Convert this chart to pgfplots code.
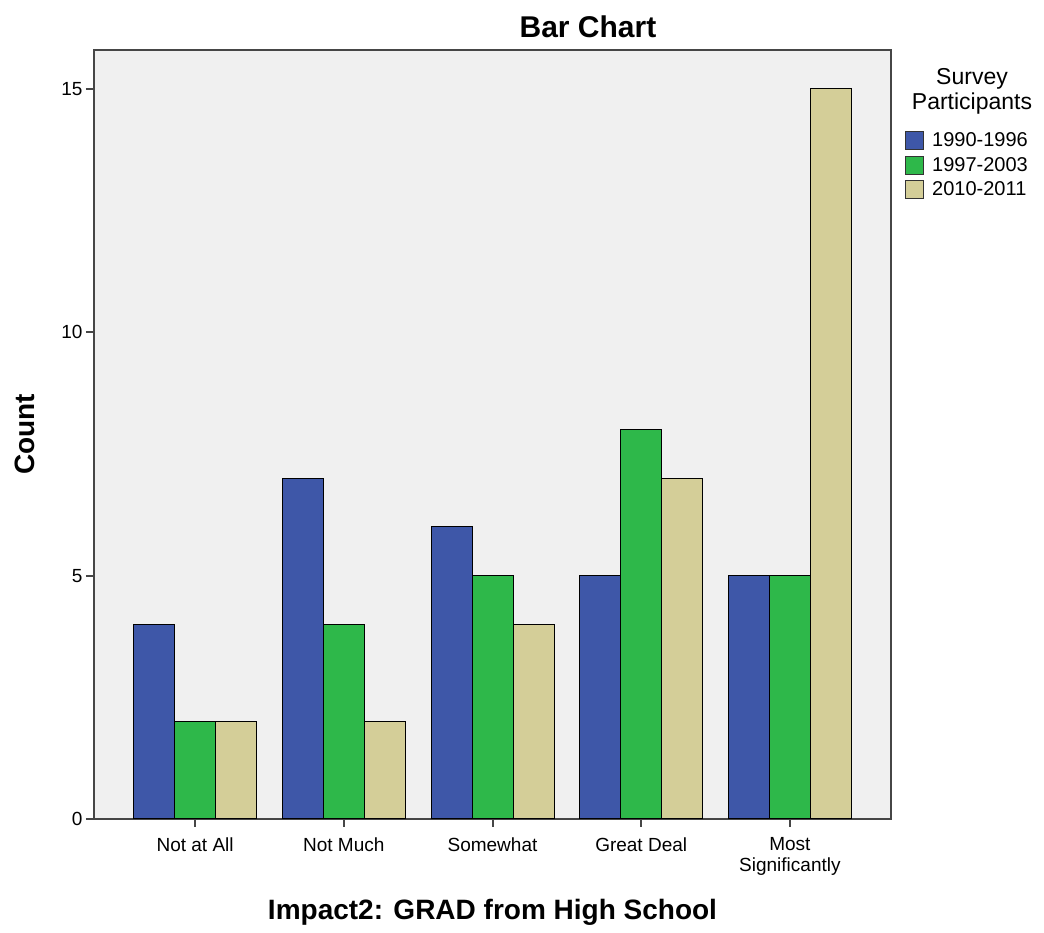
\documentclass[border=0pt]{standalone}
\usepackage{fontspec}
\setmainfont{Liberation Sans}
\usepackage{pgfplots}
\pgfplotsset{compat=1.18}
\definecolor{cblue}{RGB}{62,87,168}
\definecolor{cgreen}{RGB}{46,184,74}
\definecolor{ctan}{RGB}{212,206,152}
\definecolor{bggray}{RGB}{240,240,240}
\definecolor{axgray}{RGB}{70,70,70}
\begin{document}
\begin{tikzpicture}[x=1pt,y=1pt]
\useasboundingbox (-94,-114) rectangle (950,819);
\begin{axis}[
  at={(0,0)}, anchor=south west,
  width=797pt, height=769pt, scale only axis,
  xmin=-0.68, xmax=4.68, ymin=0, ymax=15.8,
  axis background/.style={fill=bggray},
  axis line style={draw=axgray, line width=1.5pt},
  ybar=0pt, bar width=41pt,
  xtick={0,1,2,3,4},
  xticklabels={Not at All, Not Much, Somewhat, Great Deal, {Most\\Significantly}},
  xticklabel style={align=center, font=\fontsize{19}{21}\selectfont, yshift=-7pt},
  yticklabel style={font=\fontsize{19}{21}\selectfont},
  /pgf/number format/assume math mode=true,
  ytick={0,5,10,15},
  tick align=outside, tick pos=left,
  major tick length=8pt,
  major tick style={draw=axgray, line width=2pt},
  xlabel={Impact2: GRAD from High School},
  ylabel={Count},
  xlabel style={at={(axis description cs:0.5,-0.121)}, anchor=center, font=\bfseries\fontsize{28}{32}\selectfont},
  ylabel style={at={(axis description cs:-0.0866,0.5)}, anchor=center, font=\bfseries\fontsize{28}{32}\selectfont},
  legend style={at={(axis description cs:1.0176,0.895)}, anchor=north west, draw=none, fill=none,
    font=\fontsize{20}{22}\selectfont, row sep=5pt, inner sep=0pt,
    /tikz/every odd column/.append style={column sep=6pt}},
  legend cell align=left,
  legend image code/.code={\draw[#1, draw=black!80, line width=1pt] (0pt,-9pt) rectangle (18pt,9pt);},
]
\addplot[fill=cblue, draw=black, line width=1pt] coordinates {(0,4) (1,7) (2,6) (3,5) (4,5)};
\addplot[fill=cgreen, draw=black, line width=1pt] coordinates {(0,2) (1,4) (2,5) (3,8) (4,5)};
\addplot[fill=ctan, draw=black, line width=1pt] coordinates {(0,2) (1,2) (2,4) (3,7) (4,15)};
\legend{1990-1996, 1997-2003, 2010-2011}
\end{axis}
\node[font=\bfseries\fontsize{30}{34}\selectfont] at (494,792) {Bar Chart};
\node[align=center, font=\fontsize{23}{25}\selectfont] at (878,728) {Survey\\Participants};
\end{tikzpicture}
\end{document}
